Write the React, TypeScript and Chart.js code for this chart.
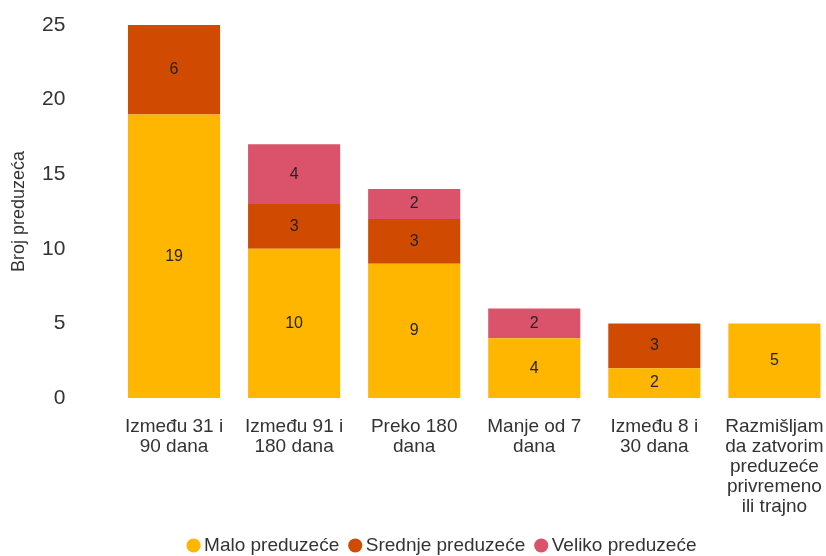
import React, { useEffect, useRef } from "react";
import { Chart, registerables } from "chart.js";

Chart.register(...registerables);

const categories: string[][] = [
  ["Između 31 i", "90 dana"],
  ["Između 91 i", "180 dana"],
  ["Preko 180", "dana"],
  ["Manje od 7", "dana"],
  ["Između 8 i", "30 dana"],
  ["Razmišljam", "da zatvorim", "preduzeće", "privremeno", "ili trajno"],
];
const malo = [19, 10, 9, 4, 2, 5];
const srednje = [6, 3, 3, 0, 3, 0];
const veliko = [0, 4, 2, 2, 0, 0];
const yTicks = [0, 5, 10, 15, 20, 25];

const FONT = "'Liberation Sans', Arial, sans-serif";
const TEXT = "#333333";

const valueLabels = {
  id: "valueLabels",
  afterDatasetsDraw(chart: any) {
    const ctx = chart.ctx;
    ctx.save();
    ctx.font = `16px ${FONT}`;
    ctx.fillStyle = "#252423";
    ctx.textAlign = "center";
    ctx.textBaseline = "middle";
    chart.data.datasets.forEach((ds: any, i: number) => {
      const meta = chart.getDatasetMeta(i);
      meta.data.forEach((el: any, j: number) => {
        const v = ds.data[j];
        if (!v) return;
        ctx.fillText(String(v), el.x, (el.y + el.base) / 2);
      });
    });
    ctx.restore();
  },
};

const W = 843;
const H = 565;

export default function App() {
  const ref = useRef<HTMLCanvasElement>(null);
  useEffect(() => {
    if (!ref.current) return;
    Chart.defaults.font.family = FONT;
    Chart.defaults.color = TEXT;
    const chart = new Chart(ref.current, {
      type: "bar",
      data: {
        labels: categories,
        datasets: [
          { label: "Malo preduzeće", data: malo, backgroundColor: "#FFB600" },
          { label: "Srednje preduzeće", data: srednje, backgroundColor: "#D04A02" },
          { label: "Veliko preduzeće", data: veliko, backgroundColor: "#DB536A" },
        ],
      },
      options: {
        animation: false,
        responsive: false,
        maintainAspectRatio: false,
        layout: { padding: { left: 52, right: 6, top: 25, bottom: 0 } },
        datasets: { bar: { categoryPercentage: 1, barPercentage: 0.767 } },
        scales: {
          x: {
            stacked: true,
            grid: { display: false, drawTicks: false },
            border: { display: false },
            ticks: {
              autoSkip: false,
              maxRotation: 0,
              minRotation: 0,
              padding: 19,
              color: TEXT,
              font: { size: 19, lineHeight: 1.05 },
            },
            afterFit: (s: any) => {
              s.height = 123;
            },
          },
          y: {
            stacked: true,
            min: 0,
            max: 25,
            grid: { display: false, drawTicks: false },
            border: { display: false },
            afterBuildTicks: (s: any) => {
              s.ticks = yTicks.map((v) => ({ value: v }));
            },
            ticks: {
              mirror: true,
              crossAlign: "far",
              padding: -72,
              color: TEXT,
              font: { size: 21 },
            },
            title: {
              display: true,
              text: "Broj preduzeća",
              color: TEXT,
              font: { size: 18, lineHeight: 1.2 },
              padding: { top: -44, bottom: 0 },
            },
            afterFit: (s: any) => {
              s.width = 62;
            },
          },
        },
        plugins: {
          legend: {
            position: "bottom",
            labels: {
              usePointStyle: true,
              pointStyle: "circle",
              boxWidth: 2,
              boxHeight: 10,
              padding: 15,
              color: TEXT,
              font: { size: 19 },
            },
          },
          tooltip: { enabled: false },
        },
      },
      plugins: [valueLabels],
    });
    return () => chart.destroy();
  }, []);
  return (
    <div style={{ position: "fixed", left: 0, top: 0, width: W, height: H }}>
      <canvas ref={ref} width={W} height={H} style={{ width: W, height: H }} />
    </div>
  );
}
